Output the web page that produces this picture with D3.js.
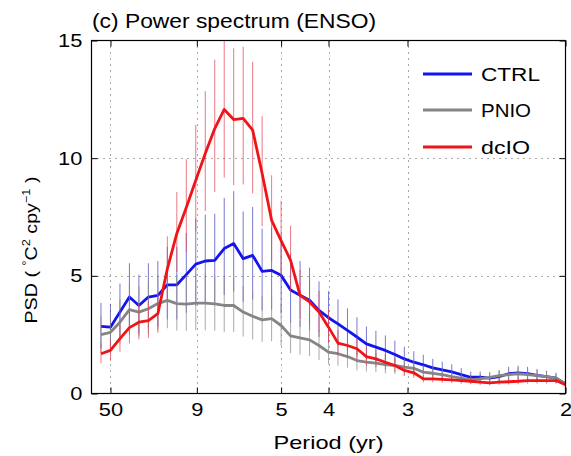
<!DOCTYPE html>
<html><head><meta charset="utf-8">
<script src="https://cdn.jsdelivr.net/npm/d3@7"></script>
<style>
body{margin:0;background:#fff}
svg{display:block}
text{font-family:"Liberation Sans",Arial,Helvetica,sans-serif;fill:#000}
</style>
</head><body>
<svg id="chart" width="571" height="456"></svg>
<script>
// ---- data ----
const frequencies = [0.01,0.02,0.03,0.04,0.05,0.06,0.07,0.08,0.09,0.10,
  0.11,0.12,0.13,0.14,0.15,0.16,0.17,0.18,0.19,0.20,
  0.21,0.22,0.23,0.24,0.25,0.26,0.27,0.28,0.29,0.30,
  0.31,0.32,0.33,0.34,0.35,0.36,0.37,0.38,0.39,0.40,
  0.41,0.42,0.43,0.44,0.45,0.46,0.47,0.48,0.49,0.50];
const periodTicks = [50, 9, 5, 4, 3, 2];
const psdTicks = [0, 5, 10, 15];
const seriesNames = ["CTRL", "PNIO", "dcIO"];
const ctrl = [2.85,2.82,3.46,4.10,3.74,4.10,4.17,4.62,4.62,5.05,
  5.50,5.63,5.66,6.16,6.37,5.73,5.87,5.19,5.23,5.02,
  4.40,4.17,3.96,3.53,3.22,2.96,2.68,2.40,2.11,1.97,
  1.83,1.66,1.47,1.33,1.22,1.09,1.00,0.92,0.80,0.69,
  0.69,0.65,0.72,0.84,0.88,0.84,0.77,0.72,0.65,0.41];
const pnio = [2.50,2.60,3.03,3.56,3.46,3.60,3.82,3.96,3.82,3.80,
  3.84,3.84,3.81,3.74,3.74,3.46,3.28,3.13,3.18,2.89,
  2.45,2.36,2.28,2.04,1.76,1.69,1.57,1.40,1.33,1.29,
  1.23,1.19,1.12,1.07,0.91,0.86,0.80,0.72,0.65,0.58,
  0.62,0.69,0.76,0.80,0.84,0.80,0.76,0.72,0.65,0.41];
const dcio = [1.69,1.83,2.33,2.80,3.03,3.10,3.39,5.30,6.80,7.90,
  9.06,10.20,11.26,12.07,11.64,11.69,11.19,9.35,7.36,6.50,
  5.66,4.17,3.89,3.46,2.82,2.14,2.04,1.90,1.57,1.47,
  1.33,1.19,0.98,0.88,0.62,0.62,0.60,0.58,0.55,0.52,
  0.48,0.45,0.48,0.50,0.52,0.55,0.55,0.55,0.55,0.37];
const ciLowFactor  = [0.68, 0.70, 0.76];   // confidence interval factors
const ciHighFactor = [1.35, 1.32, 1.26];

// ---- styles ----
const colors = ["#1414f0", "#858585", "#f01418"];
const barColors = ["#4646c0", "#8a8a8a", "#e44656"];

const svg = d3.select("#chart");
const L = 91.5, R = 565.5, T = 40.5, B = 393.5;
const x = d3.scaleLinear().domain([0, 0.5]).range([L, R]);
const y = d3.scaleLinear().domain([0, 15]).range([B, T]);

svg.append("defs").append("clipPath").attr("id","clip")
  .append("rect").attr("x",L).attr("y",T).attr("width",R-L).attr("height",B-T);

// grid
const grid = svg.append("g").attr("stroke","#555").attr("stroke-width",1)
  .attr("stroke-dasharray","1,5");
periodTicks.filter(p => p !== 2).forEach(p => {
  grid.append("line").attr("x1",Math.round(x(1/p))+0.5).attr("x2",Math.round(x(1/p))+0.5)
    .attr("y1",T).attr("y2",B);
});
[5,10].forEach(v => {
  grid.append("line").attr("y1",Math.round(y(v))+0.5).attr("y2",Math.round(y(v))+0.5)
    .attr("x1",L).attr("x2",R);
});

// series
const plot = svg.append("g").attr("clip-path","url(#clip)");
const allSeries = [ctrl, pnio, dcio];
allSeries.forEach((vals, i) => {
  const pts = vals.map((v, j) => ({f: frequencies[j], v}));
  plot.append("g").selectAll("line").data(pts).join("line")
    .attr("x1", d => x(d.f)).attr("x2", d => x(d.f))
    .attr("y1", d => y(d.v * ciLowFactor[i])).attr("y2", d => y(d.v * ciHighFactor[i]))
    .attr("stroke", barColors[i]).attr("stroke-width", 1).attr("opacity", 0.72);
  plot.append("path").datum(pts)
    .attr("d", d3.line().x(d => x(d.f)).y(d => y(d.v)))
    .attr("fill","none").attr("stroke", colors[i]).attr("stroke-width", 2.8)
    .attr("stroke-linejoin","round");
});

// axes
const fs = "19px";
const xb = d3.axisBottom(x).tickValues(periodTicks.map(p => 1/p))
  .tickFormat((d,i) => periodTicks[i]).tickSizeInner(-6).tickSizeOuter(0).tickPadding(9);
const gx = svg.append("g").attr("transform",`translate(0,${B})`).call(xb);
gx.selectAll("text").style("font-size",fs).attr("transform","scale(1.15,1)");
svg.append("g").attr("transform",`translate(0,${T})`)
  .call(d3.axisTop(x).tickValues(periodTicks.map(p => 1/p)).tickFormat("").tickSizeInner(-6).tickSizeOuter(0));
const yl = d3.axisLeft(y).tickValues(psdTicks).tickSizeInner(-6).tickSizeOuter(0).tickPadding(8);
const gy = svg.append("g").attr("transform",`translate(${L},0)`).call(yl);
gy.selectAll("text").style("font-size",fs).attr("transform","scale(1.15,1)");
svg.append("g").attr("transform",`translate(${R},0)`)
  .call(d3.axisRight(y).tickValues(psdTicks).tickFormat("").tickSizeInner(-6).tickSizeOuter(0));
svg.selectAll(".domain").remove();
svg.selectAll(".tick line").attr("stroke","#000");
svg.append("rect").attr("x",L).attr("y",T).attr("width",R-L).attr("height",B-T)
  .attr("fill","none").attr("stroke","#000").attr("stroke-width",1.2);

// title
svg.append("text").attr("x",92).attr("y",27.5).style("font-size","20px")
  .attr("textLength",284).attr("lengthAdjust","spacingAndGlyphs")
  .text("(c) Power spectrum (ENSO)");

// x label
svg.append("text").attr("x",328.5).attr("y",449).attr("text-anchor","middle")
  .style("font-size","19px").attr("textLength",110).attr("lengthAdjust","spacingAndGlyphs")
  .text("Period (yr)");

// y label
const ylab = svg.append("text").attr("transform","translate(37,250) rotate(-90)")
  .attr("text-anchor","middle").style("font-size","17px")
  .attr("textLength",147).attr("lengthAdjust","spacingAndGlyphs");
ylab.append("tspan").text("PSD ( ");
ylab.append("tspan").attr("dy",-7).style("font-size","11px").text("°");
ylab.append("tspan").attr("dy",7).text("C");
ylab.append("tspan").attr("dy",-7).style("font-size","11px").text("2");
ylab.append("tspan").attr("dy",7).text(" cpy");
ylab.append("tspan").attr("dy",-7).style("font-size","11px").text("−1");
ylab.append("tspan").attr("dy",7).text(" )");

// legend
const legY = [74, 110, 147];
const legW = [59, 50, 49];
seriesNames.forEach((n, i) => {
  svg.append("line").attr("x1",423).attr("x2",472).attr("y1",legY[i]).attr("y2",legY[i])
    .attr("stroke",colors[i]).attr("stroke-width",2.8);
  svg.append("text").attr("x",481).attr("y",legY[i]+7).style("font-size","18px")
    .attr("textLength",legW[i]).attr("lengthAdjust","spacingAndGlyphs").text(n);
});
</script>
</body></html>
